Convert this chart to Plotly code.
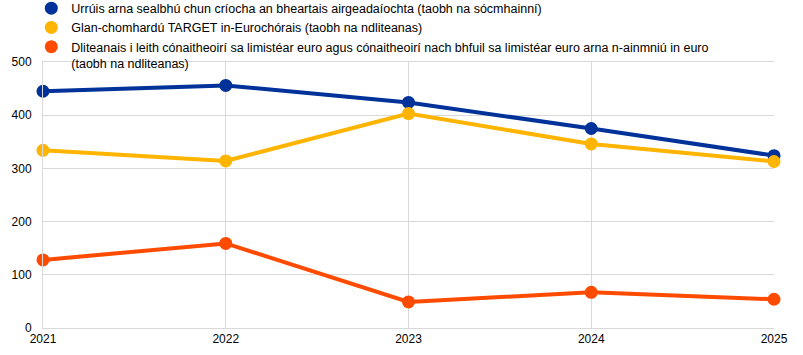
import plotly.graph_objects as go

years = ["2021", "2022", "2023", "2024", "2025"]
securities = [445, 456, 424, 375, 324]
target = [334, 314, 403, 346, 313]
liabilities = [128, 159, 49, 67, 54]

names = [
    "Urrúis arna sealbhú chun críocha an bheartais airgeadaíochta (taobh na sócmhainní)",
    "Glan-chomhardú TARGET in-Eurochórais (taobh na ndliteanas)",
    "Dliteanais i leith cónaitheoirí sa limistéar euro agus cónaitheoirí nach bhfuil sa limistéar euro arna n-ainmniú in euro<br>(taobh na ndliteanas)",
]
colors = ["#003299", "#FFB400", "#FF4B00"]
series = [securities, target, liabilities]

fig = go.Figure()
for vals, c in zip(series, colors):
    fig.add_trace(go.Scatter(x=years, y=vals, mode="lines+markers",
                             line=dict(color=c, width=4),
                             marker=dict(color=c, size=13),
                             showlegend=False, hoverinfo="skip", cliponaxis=False))
for n, c in zip(names, colors):
    fig.add_trace(go.Scatter(x=[None], y=[None], mode="markers", name=n,
                             marker=dict(color=c, size=13)))

fig.update_layout(
    width=803, height=355,
    margin=dict(l=43, r=29, t=62, b=27, autoexpand=False),
    paper_bgcolor="white", plot_bgcolor="white",
    font=dict(family="Liberation Sans, Arial, sans-serif", size=12, color="#000000"),
    legend=dict(x=-0.016, y=1.2575,
                xanchor="left", yanchor="top", valign="top",
                bgcolor="rgba(0,0,0,0)", tracegroupgap=0,
                font=dict(size=12.5), itemwidth=30),
    xaxis=dict(type="category", range=[0, 4], showgrid=True, gridcolor="#d9d9d9",
               gridwidth=1, showline=True, linecolor="#d9d9d9", mirror=True,
               ticks="", tickfont=dict(size=12), zeroline=False, tickangle=0),
    yaxis=dict(range=[0, 500], dtick=100, showgrid=True, gridcolor="#d9d9d9",
               gridwidth=1, showline=True, linecolor="#d9d9d9", ticks="",
               ticklabelstandoff=8, tickfont=dict(size=12), zeroline=False),
)
fig.write_html("out.html", config={"displayModeBar": False},
               post_script="document.body.style.margin='0';")
